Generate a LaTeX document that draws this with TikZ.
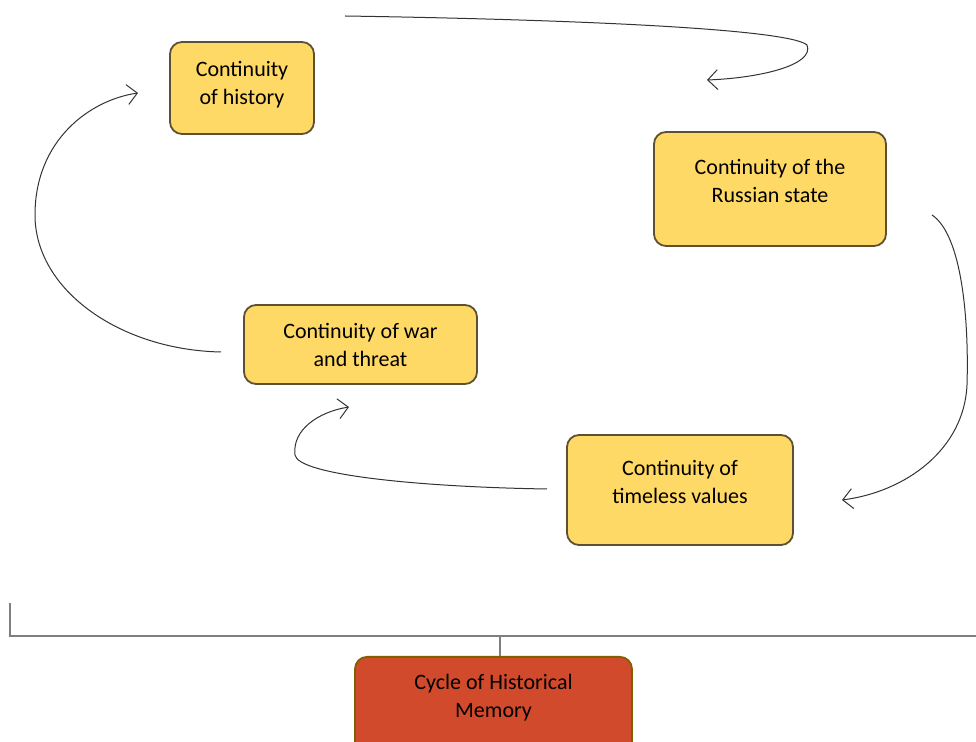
\documentclass[tikz,border=0pt]{standalone}
\usepackage{fontspec}
\setmainfont{Carlito}
\usetikzlibrary{arrows.meta}

\definecolor{boxfill}{HTML}{FFD966}
\definecolor{boxline}{HTML}{5E5030}
\definecolor{cyclefill}{HTML}{D24A2C}
\definecolor{cycleline}{HTML}{7F6000}
\definecolor{bracket}{HTML}{7F7F7F}
\definecolor{flow}{HTML}{333333}

\begin{document}
\begin{tikzpicture}[x=0.5pt, y=-0.5pt,
	stage/.style={draw=boxline, line width=0.9pt, fill=boxfill, rounded corners=6pt, inner sep=0pt},
	memory/.style={stage, draw=cycleline, fill=cyclefill},
	caption/.style={align=center, inner sep=0pt, font=\fontsize{11}{14}\selectfont},
	flowline/.style={draw=flow, line width=0.5pt, -{Straight Barb[length=5pt, width=10pt]}}]

\path [use as bounding box] (0,0) rectangle (976,742);

% STAGES
\node [stage, minimum width=72pt, minimum height=46pt] (hist) at (242,88) {};
\node [caption] (histtext) at (242,84.5) {Continuity\\of history};

\node [stage, minimum width=116pt, minimum height=57pt] (russ) at (770,189) {};
\node [caption] (russtext) at (770,181) {Continuity of the\\Russian state};

\node [stage, minimum width=116.5pt, minimum height=39.5pt] (war) at (360.5,344.5) {};
\node [caption] (wartext) at (360.5,345) {Continuity of war\\and threat};

\node [stage, minimum width=113pt, minimum height=55pt] (time) at (680,490) {};
\node [caption] (timetext) at (680,482) {Continuity of\\timeless values};

% CYCLE
\node [memory, minimum width=138.5pt, minimum height=55pt, anchor=north] (cycle) at (493.5,656) {};
\node [caption] (cycletext) at (493.5,697.5) {Cycle of Historical\\Memory};

% BRACKET
\coordinate (bl) at (10,603);
\coordinate (bc) at (500,636);
\draw [bracket, line width=0.8pt] (bl) |- (976,636);
\draw [bracket, line width=0.8pt] (bc) -- (bc |- cycle.north);

% FLOW
\coordinate (f1a) at (345,16);
\coordinate (f1b) at (707,80);
\draw [flowline] (f1a) .. controls (600,20) and (790,30) .. (807,45)
	.. controls (815,65) and (760,78) .. (f1b);

\coordinate (f2a) at (932,215);
\coordinate (f2b) at (842,500);
\draw [flowline] (f2a) .. controls (962,235) and (969,320) .. (967,385)
	.. controls (964,450) and (905,492) .. (f2b);

\coordinate (f3a) at (547,489);
\coordinate (f3b) at (349,407);
\draw [flowline] (f3a) .. controls (420,487) and (298,475) .. (295,455)
	.. controls (292,430) and (318,412) .. (f3b);

\coordinate (f4a) at (221,352);
\coordinate (f4b) at (138,93);
\draw [flowline] (f4a) .. controls (120,350) and (35,290) .. (35,215)
	.. controls (35,140) and (90,100) .. (f4b);

\end{tikzpicture}
\end{document}
